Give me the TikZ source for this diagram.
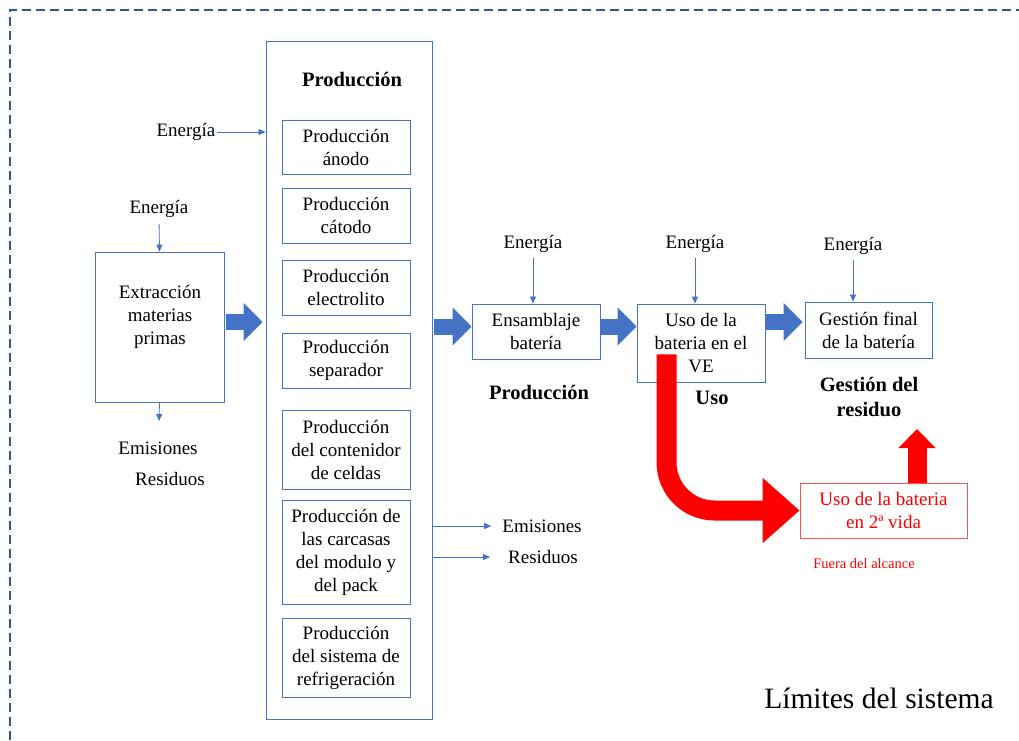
\documentclass[tikz,border=0pt]{standalone}
\usepackage{fontspec}
\setmainfont{Liberation Serif}
\usetikzlibrary{arrows.meta}
\definecolor{boxblue}{RGB}{68,114,196}
\definecolor{limit}{RGB}{47,85,151}
\definecolor{outred}{RGB}{255,0,0}
\definecolor{outbox}{RGB}{255,80,80}

\begin{document}
\begin{tikzpicture}[x=1pt,y=-1pt,
  txt/.style={font=\fontsize{19}{23}\selectfont,align=center,inner sep=1pt},
  ttl/.style={font=\fontsize{20.5}{25}\selectfont\bfseries,align=center,inner sep=1pt},
  box/.style={txt,draw=boxblue,line width=0.9pt,minimum width=128pt,inner sep=0pt},
  thin/.style={boxblue,line width=0.8pt,-{Triangle[length=7pt,width=6pt]}},
  fat/.style={boxblue,line width=16pt,-{Triangle[length=19pt,width=37pt]}},
  bigred/.style={outred,line width=20pt,-{Triangle[length=37pt,width=63pt]}}]
\useasboundingbox (0,0) rectangle (1019,740);
% limites del sistema
\draw[limit,line width=1.8pt,dash pattern=on 9pt off 5pt] (10,740) -- (10,10) -- (1019,10);
\node[font=\fontsize{29.5}{35}\selectfont] (lim) at (879,698) {Límites del sistema};
% produccion de componentes
\node[box,minimum width=166pt,minimum height=678pt] (col) at (349,380) {};
\node[ttl] (colttl) at (352,79) {Producción};
\foreach \n/\y/\h/\t in {an/147/54/{Producción\\ánodo}, ca/215.5/55/{Producción\\cátodo},
  el/287.5/55/{Producción\\electrolito}, se/360.5/55/{Producción\\separador},
  ce/449.5/79/{Producción\\del contenidor\\de celdas},
  mo/552/104/{Producción de\\las carcasas\\del modulo y\\del pack},
  re/657.5/79/{Producción\\del sistema de\\refrigeración}}
  \node[box,minimum height=\h] (\n) at (346,\y) {\t};
\node[txt] (ecol) at (186,132) {Energía};
\draw[thin] (ecol.east) -- (ecol.east -| col.west);
\node[txt] (emcol) at (542,526) {Emisiones};
\node[txt] (recol) at (543,557) {Residuos};
\draw[thin,shorten >=10pt] (emcol.west -| col.east) -- (emcol.west);
\draw[thin,shorten >=17pt] (recol.west -| col.east) -- (recol.west);
% extraccion
\node[box,minimum width=129pt,minimum height=150pt] (ext) at (159.5,327) {};
\node[txt] (extlbl) at (160,317) {Extracción\\materias\\primas};
\node[txt] (eext) at (159,209) {Energía};
\draw[thin,shorten <=5pt] (eext.south) -- (ext.north);
\coordinate (extout) at (159,421);
\draw[thin] (ext.south) -- (extout);
\node[txt] (emext) at (158,448) {Emisiones};
\node[txt] (reext) at (170,479) {Residuos};
% ensamblaje, uso, gestion
\node[box,minimum height=55pt] (ens) at (536,331.5) {Ensamblaje\\batería};
\node[box,minimum height=78pt] (uso) at (701,343) {Uso de la\\bateria en el\\VE};
\node[box,minimum width=127pt,minimum height=56pt] (ges) at (868.5,330) {Gestión final\\de la batería};
\foreach \n/\b/\x/\y in {eens/ens/533/244, euso/uso/695/244, eges/ges/853/246}{
  \node[txt] (\n) at (\x,\y) {Energía};
  \draw[thin,shorten <=4pt] (\n.south) -- (\n.south |- \b.north);}
\node[ttl] (lprod) at (539,392) {Producción};
\node[ttl] (luso) at (712,398) {Uso};
\node[ttl] (lges) at (869,397) {Gestión del\\residuo};
% flechas del proceso
\draw[fat,shorten <=2pt,shorten >=3pt] ([yshift=5pt]ext.east) -- ([yshift=5pt]ext.east -| col.west);
\draw[fat,shorten <=2pt] ([yshift=5pt]ens.west -| col.east) -- ([yshift=5pt]ens.west);
\draw[fat] ([yshift=5pt]ens.east) -- ([yshift=5pt]ens.east -| uso.west);
\draw[fat,shorten >=2pt] ([yshift=8pt]ges.west -| uso.east) -- ([yshift=8pt]ges.west);
% segunda vida
\node[txt,draw=outbox,line width=0.9pt,text=outred,minimum width=167pt,minimum height=55pt,inner sep=0pt] (vida) at (883.5,510.5) {Uso de la bateria\\en 2ª vida};
\node[font=\fontsize{14.5}{17}\selectfont,text=outred] (fuera) at (864,564) {Fuera del alcance};
\draw[bigred,rounded corners=48pt] ([shift={(30pt,28pt)}]uso.south west) |- (vida.west);
\coordinate (gestip) at (917,429);
\draw[outred,line width=19pt,-{Triangle[length=19pt,width=36pt]}] (vida.north -| gestip) -- (gestip);
\end{tikzpicture}
\end{document}
